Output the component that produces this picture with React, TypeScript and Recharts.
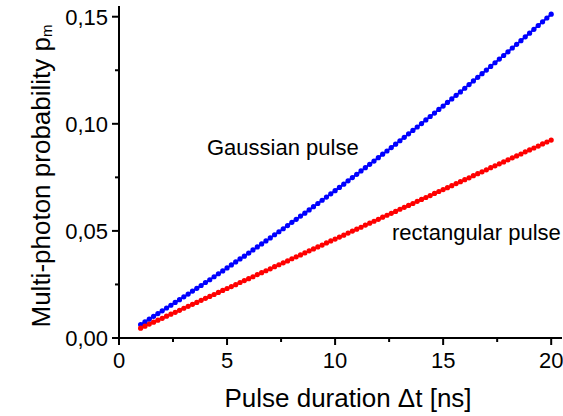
import React from "react";
import { ComposedChart, Line, XAxis, YAxis } from "recharts";

const PULSE_DURATION = [
  1.0, 1.2, 1.4, 1.6, 1.8, 2.0, 2.2, 2.4, 2.6, 2.8, 3.0, 3.2, 3.4, 3.6, 3.8, 4.0, 4.2, 4.4, 4.6, 4.8,
  5.0, 5.2, 5.4, 5.6, 5.8, 6.0, 6.2, 6.4, 6.6, 6.8, 7.0, 7.2, 7.4, 7.6, 7.8, 8.0, 8.2, 8.4, 8.6, 8.8,
  9.0, 9.2, 9.4, 9.6, 9.8, 10.0, 10.2, 10.4, 10.6, 10.8, 11.0, 11.2, 11.4, 11.6, 11.8, 12.0, 12.2, 12.4, 12.6, 12.8,
  13.0, 13.2, 13.4, 13.6, 13.8, 14.0, 14.2, 14.4, 14.6, 14.8, 15.0, 15.2, 15.4, 15.6, 15.8, 16.0, 16.2, 16.4, 16.6, 16.8,
  17.0, 17.2, 17.4, 17.6, 17.8, 18.0, 18.2, 18.4, 18.6, 18.8, 19.0, 19.2, 19.4, 19.6, 19.8, 20.0,
];

const GAUSSIAN = [
  0.0063, 0.0075, 0.0088, 0.0101, 0.0114, 0.0127, 0.0140, 0.0153, 0.0166, 0.0179, 0.0192, 0.0205, 0.0219, 0.0232, 0.0245, 0.0259, 0.0272, 0.0286, 0.0300, 0.0313,
  0.0327, 0.0341, 0.0355, 0.0369, 0.0382, 0.0396, 0.0411, 0.0425, 0.0439, 0.0453, 0.0467, 0.0482, 0.0496, 0.0510, 0.0525, 0.0540, 0.0554, 0.0569, 0.0583, 0.0598,
  0.0613, 0.0628, 0.0643, 0.0658, 0.0673, 0.0688, 0.0703, 0.0718, 0.0734, 0.0749, 0.0764, 0.0780, 0.0795, 0.0811, 0.0826, 0.0842, 0.0858, 0.0873, 0.0889, 0.0905,
  0.0921, 0.0937, 0.0953, 0.0969, 0.0985, 0.1001, 0.1018, 0.1034, 0.1050, 0.1067, 0.1083, 0.1100, 0.1116, 0.1133, 0.1149, 0.1166, 0.1183, 0.1200, 0.1217, 0.1234,
  0.1251, 0.1268, 0.1285, 0.1302, 0.1319, 0.1336, 0.1354, 0.1371, 0.1388, 0.1406, 0.1423, 0.1441, 0.1459, 0.1476, 0.1494, 0.1512,
];

const RECTANGULAR = [
  0.0046, 0.0055, 0.0065, 0.0074, 0.0083, 0.0092, 0.0102, 0.0111, 0.0120, 0.0129, 0.0139, 0.0148, 0.0157, 0.0166, 0.0176, 0.0185, 0.0194, 0.0203, 0.0213, 0.0222,
  0.0231, 0.0240, 0.0249, 0.0259, 0.0268, 0.0277, 0.0286, 0.0296, 0.0305, 0.0314, 0.0323, 0.0333, 0.0342, 0.0351, 0.0360, 0.0370, 0.0379, 0.0388, 0.0397, 0.0407,
  0.0416, 0.0425, 0.0434, 0.0444, 0.0453, 0.0462, 0.0471, 0.0480, 0.0490, 0.0499, 0.0508, 0.0517, 0.0527, 0.0536, 0.0545, 0.0554, 0.0564, 0.0573, 0.0582, 0.0591,
  0.0601, 0.0610, 0.0619, 0.0628, 0.0638, 0.0647, 0.0656, 0.0665, 0.0675, 0.0684, 0.0693, 0.0702, 0.0711, 0.0721, 0.0730, 0.0739, 0.0748, 0.0758, 0.0767, 0.0776,
  0.0785, 0.0795, 0.0804, 0.0813, 0.0822, 0.0832, 0.0841, 0.0850, 0.0859, 0.0869, 0.0878, 0.0887, 0.0896, 0.0906, 0.0915, 0.0924,
];

const X_TICKS = [0, 2.5, 5, 7.5, 10, 12.5, 15, 17.5, 20];
const X_MAJOR = [0, 5, 10, 15, 20];
const Y_TICKS = [0, 0.025, 0.05, 0.075, 0.1, 0.125, 0.15];
const Y_MAJOR = [0, 0.05, 0.1, 0.15];

const FONT = "'Liberation Sans', Arial, Helvetica, sans-serif";
const MAJOR_LEN = 7;
const MINOR_LEN = 4;
const TICK_SIZE = 7;
const TICK_MARGIN = 6;

const data = PULSE_DURATION.map((x, i) => ({ x, gauss: GAUSSIAN[i], rect: RECTANGULAR[i] }));

const isMajor = (list: number[], v: number) => list.some((m) => Math.abs(m - v) < 1e-9);

const XTick = (props: any) => {
  const { x, y, payload } = props;
  const axisY = y - TICK_SIZE - TICK_MARGIN;
  const major = isMajor(X_MAJOR, payload.value);
  return (
    <g>
      <line x1={x} x2={x} y1={axisY} y2={axisY + (major ? MAJOR_LEN : MINOR_LEN)} stroke="#000" strokeWidth={2} />
      {major && (
        <text x={x} y={axisY + 30} textAnchor="middle" fontSize={22} fontFamily={FONT} fill="#000">
          {String(payload.value)}
        </text>
      )}
    </g>
  );
};

const YTick = (props: any) => {
  const { x, y, payload } = props;
  const axisX = x + TICK_SIZE + TICK_MARGIN;
  const major = isMajor(Y_MAJOR, payload.value);
  return (
    <g>
      <line x1={axisX} x2={axisX - (major ? MAJOR_LEN : MINOR_LEN)} y1={y} y2={y} stroke="#000" strokeWidth={2} />
      {major && (
        <text x={axisX - 11} y={y + 8} textAnchor="end" fontSize={22} fontFamily={FONT} fill="#000">
          {payload.value.toFixed(2).replace(".", ",")}
        </text>
      )}
    </g>
  );
};

export default function App() {
  return (
    <div style={{ position: "absolute", left: 0, top: 0, width: 563, height: 416, background: "#fff" }}>
      <ComposedChart
        width={563}
        height={416}
        data={data}
        margin={{ top: 6, right: 1, bottom: 0, left: 0 }}
      >
        <XAxis
          dataKey="x"
          type="number"
          domain={[0, 20.5]}
          ticks={X_TICKS}
          interval={0}
          height={78}
          tickSize={TICK_SIZE}
          tickMargin={TICK_MARGIN}
          tickLine={false}
          tick={<XTick />}
          axisLine={{ stroke: "#000", strokeWidth: 2 }}
        />
        <YAxis
          type="number"
          domain={[0, 0.155]}
          ticks={Y_TICKS}
          interval={0}
          width={119}
          tickSize={TICK_SIZE}
          tickMargin={TICK_MARGIN}
          tickLine={false}
          tick={<YTick />}
          axisLine={{ stroke: "#000", strokeWidth: 2 }}
        />
        <Line
          dataKey="gauss"
          type="linear"
          stroke="#0000ff"
          strokeWidth={2}
          dot={{ r: 2.6, fill: "#0000ff", stroke: "none" }}
          isAnimationActive={false}
        />
        <Line
          dataKey="rect"
          type="linear"
          stroke="#ff0000"
          strokeWidth={2}
          dot={{ r: 2.6, fill: "#ff0000", stroke: "none" }}
          isAnimationActive={false}
        />
      </ComposedChart>
      <svg
        width={563}
        height={416}
        style={{ position: "absolute", left: 0, top: 0, pointerEvents: "none" }}
      >
        <text x={207} y={155} fontSize={22} fontFamily={FONT} fill="#000">
          Gaussian pulse
        </text>
        <text x={392} y={240} fontSize={22} fontFamily={FONT} fill="#000">
          rectangular pulse
        </text>
        <text x={348} y={407} textAnchor="middle" fontSize={26} fontFamily={FONT} fill="#000">
          Pulse duration Δt [ns]
        </text>
        <text
          transform="translate(50 176) rotate(-90)"
          textAnchor="middle"
          fontSize={26}
          fontFamily={FONT}
          fill="#000"
        >
          Multi-photon probability p
          <tspan fontSize={15} dy={2}>m</tspan>
        </text>
      </svg>
    </div>
  );
}
